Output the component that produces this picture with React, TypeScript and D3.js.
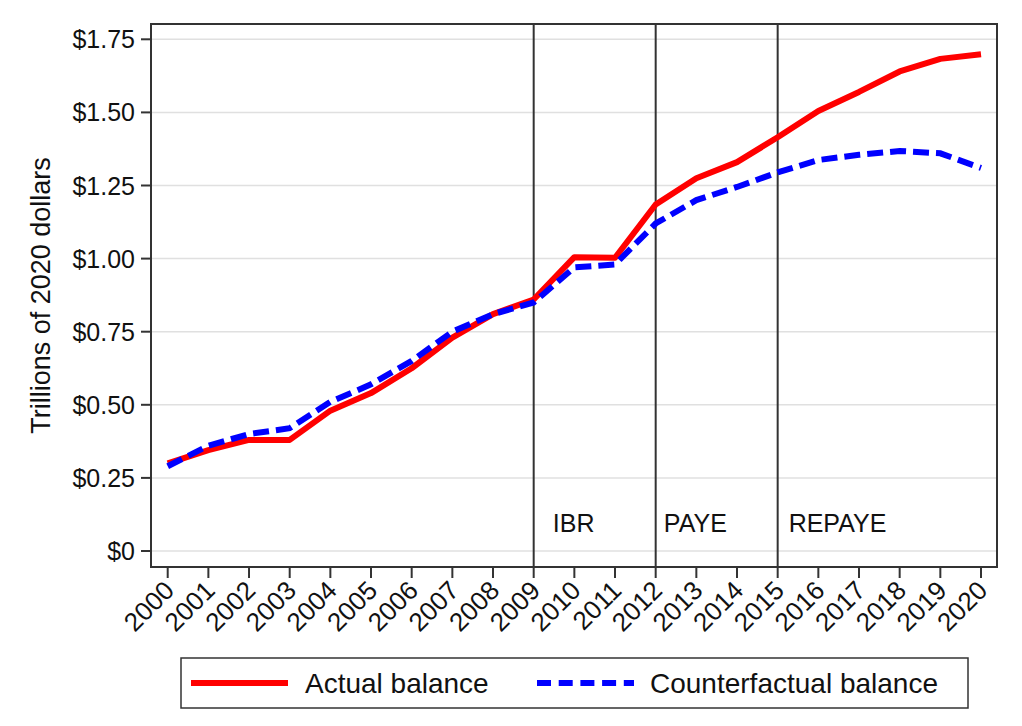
import * as d3 from "d3";

const years = d3.range(2000, 2021);
const actualBalance = [
  0.3, 0.345, 0.38, 0.38, 0.48, 0.54, 0.625, 0.73, 0.81, 0.86, 1.005, 1.003, 1.185,
  1.275, 1.33, 1.415, 1.505, 1.57, 1.64, 1.683, 1.699,
];
const counterfactualBalance = [
  0.29, 0.36, 0.4, 0.42, 0.51, 0.57, 0.65, 0.75, 0.81, 0.85, 0.97, 0.98, 1.12, 1.2,
  1.245, 1.295, 1.337, 1.355, 1.368, 1.36, 1.31,
];
const yTicks = [0, 0.25, 0.5, 0.75, 1.0, 1.25, 1.5, 1.75];
const yTickLabels = ["$0", "$0.25", "$0.50", "$0.75", "$1.00", "$1.25", "$1.50", "$1.75"];
const policyYears = [2009, 2012, 2015];
const policyLabels = ["IBR", "PAYE", "REPAYE"];
const policyLabelX = [2009.47, 2012.2, 2015.27];

const W = 1022;
const H = 726;
// plot frame
const frame = { left: 151, right: 997, top: 24, bottom: 567 };
const font = "'Liberation Sans', Arial, Helvetica, sans-serif";

export default function App() {
  const x = d3.scaleLinear().domain([2000, 2020]).range([167.7, 981]);
  const y = d3.scaleLinear().domain([0, 1.75]).range([551, 39.3]);

  const line = d3
    .line<number>()
    .x((_, i) => x(years[i]))
    .y((d) => y(d));

  return (
    <svg
      width={W}
      height={H}
      style={{ position: "absolute", left: 0, top: 0, background: "#fff" }}
      fontFamily={font}
    >
      <rect x={0} y={0} width={W} height={H} fill="#fff" />

      {/* grid lines */}
      {yTicks.map((t) => (
        <line
          key={"g" + t}
          x1={frame.left}
          x2={frame.right}
          y1={y(t)}
          y2={y(t)}
          stroke="#e0e0e0"
          strokeWidth={1.5}
        />
      ))}

      {/* policy lines */}
      {policyYears.map((p) => (
        <line
          key={"p" + p}
          x1={x(p)}
          x2={x(p)}
          y1={frame.top}
          y2={frame.bottom}
          stroke="#333"
          strokeWidth={2}
        />
      ))}
      {policyLabels.map((lab, i) => (
        <text key={lab} x={x(policyLabelX[i])} y={532} fontSize={25} fill="#111">
          {lab}
        </text>
      ))}

      {/* series */}
      <path
        d={line(actualBalance) || ""}
        fill="none"
        stroke="#ff0000"
        strokeWidth={6}
        strokeLinejoin="round"
      />
      <path
        d={line(counterfactualBalance) || ""}
        fill="none"
        stroke="#0000ff"
        strokeWidth={6}
        strokeDasharray="16,7"
      />

      {/* frame */}
      <rect
        x={frame.left}
        y={frame.top}
        width={frame.right - frame.left}
        height={frame.bottom - frame.top}
        fill="none"
        stroke="#333"
        strokeWidth={2}
      />

      {/* y axis */}
      {yTicks.map((t, i) => (
        <g key={"y" + t}>
          <line x1={frame.left - 10} x2={frame.left} y1={y(t)} y2={y(t)} stroke="#333" strokeWidth={2} />
          <text
            x={135}
            y={y(t)}
            dy="0.36em"
            textAnchor="end"
            fontSize={25}
            fill="#111"
          >
            {yTickLabels[i]}
          </text>
        </g>
      ))}
      <text
        transform={`translate(50,${(frame.top + frame.bottom) / 2}) rotate(-90)`}
        textAnchor="middle"
        fontSize={27}
        fill="#111"
      >
        Trillions of 2020 dollars
      </text>

      {/* x axis */}
      {years.map((yr) => (
        <g key={"x" + yr}>
          <line
            x1={x(yr)}
            x2={x(yr)}
            y1={frame.bottom}
            y2={frame.bottom + 11}
            stroke="#333"
            strokeWidth={2}
          />
          <text
            transform={`translate(${x(yr) + 8},${frame.bottom + 25}) rotate(-45)`}
            textAnchor="end"
            fontSize={26}
            fill="#111"
          >
            {yr}
          </text>
        </g>
      ))}

      {/* legend */}
      <rect x={181} y={658} width={787} height={50} fill="#fff" stroke="#333" strokeWidth={1.5} />
      <line x1={191} x2={288} y1={683} y2={683} stroke="#ff0000" strokeWidth={6} />
      <text x={305} y={683} dy="0.36em" fontSize={28} fill="#111">
        Actual balance
      </text>
      <line
        x1={537}
        x2={634}
        y1={683}
        y2={683}
        stroke="#0000ff"
        strokeWidth={6}
        strokeDasharray="14,7.7"
      />
      <text x={650} y={683} dy="0.36em" fontSize={28} fill="#111">
        Counterfactual balance
      </text>
    </svg>
  );
}
